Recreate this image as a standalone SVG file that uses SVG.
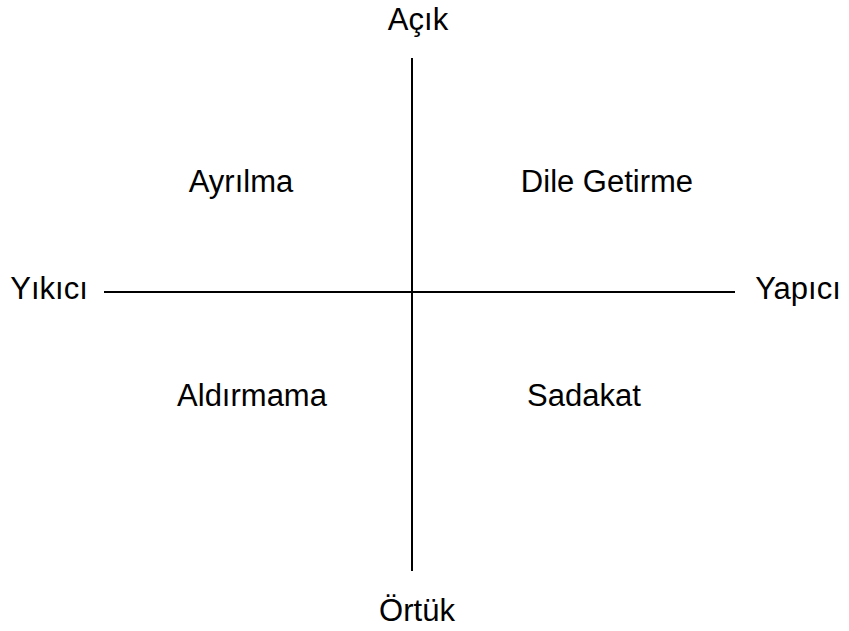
<svg xmlns="http://www.w3.org/2000/svg" width="849" height="631" viewBox="0 0 849 631">
<style>
.t{font-family:"Liberation Sans",Arial,sans-serif;font-size:31px;fill:#000;text-anchor:middle}
.l{stroke:#000;stroke-width:2;fill:none}
</style>
<rect width="849" height="631" fill="#fff"/>
<g id="connectors">
<line class="l" x1="412" y1="58" x2="412" y2="571"/>
<line class="l" x1="104" y1="292" x2="735" y2="292"/>
</g>
<g id="acik"><text class="t" x="418" y="30">Açık</text></g>
<g id="ortuk"><text class="t" x="417" y="621">Örtük</text></g>
<g id="yikici"><text class="t" x="49" y="299">Yıkıcı</text></g>
<g id="yapici"><text class="t" x="798" y="299">Yapıcı</text></g>
<g id="ayrilma"><text class="t" x="241" y="192">Ayrılma</text></g>
<g id="dile"><text class="t" x="607" y="192">Dile Getirme</text></g>
<g id="aldirmama"><text class="t" x="252" y="406">Aldırmama</text></g>
<g id="sadakat"><text class="t" x="584" y="406">Sadakat</text></g>
</svg>
